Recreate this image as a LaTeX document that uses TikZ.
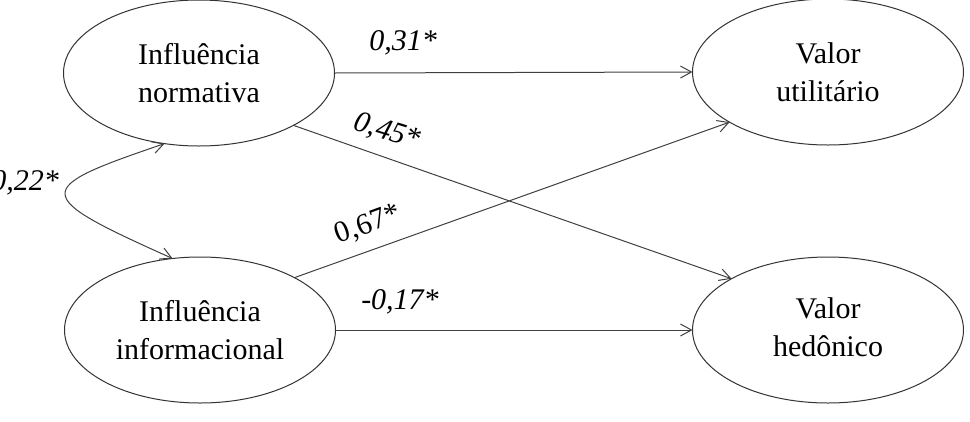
\documentclass[tikz,border=0pt]{standalone}
\usepackage{fontspec}
\setmainfont{Liberation Serif}
\usetikzlibrary{arrows.meta,shapes.geometric}
\begin{document}
\begin{tikzpicture}[x=1pt,y=-1pt,
  latent/.style={ellipse,draw=black!80,line width=1pt,minimum width=271pt,minimum height=146pt,inner sep=0pt,outer sep=0pt,align=center,font=\fontsize{30}{38}\selectfont},
  path/.style={draw=black!75,line width=1pt,-{Straight Barb[length=11pt,width=12pt]}},
  coef/.style={font=\fontsize{30}{36}\selectfont\itshape,inner sep=0pt}]
\useasboundingbox (0,0) rectangle (970,421);
\node[latent] (n1) at (199,73) {Influência\\normativa};
\node[latent] (n2) at (200,330) {Influência\\informacional};
\node[latent] (v1) at (828,72) {Valor\\utilitário};
\node[latent] (v2) at (828,330) {\raisebox{6pt}{\begin{tabular}{@{}c@{}}Valor\\hedônico\end{tabular}}};
\draw[path] (n1.east) -- (v1.west);
\draw[path] (n1.331) -- (v2.152);
\draw[path] (n2.29) -- (v1.207.5);
\draw[path] (n2.east) -- (v2.west);
\draw[draw=black!75,line width=1pt,{Straight Barb[length=11pt,width=12pt]}-{Straight Barb[length=11pt,width=12pt]}]
  (n1.244) .. controls (31,189) and (31,195) .. (n2.111);
\node[coef] (c31) at (403,43) {0,31*};
\node[coef,rotate=-17] (c45) at (387,132) {0,45*};
\node[coef,font=\fontsize{30}{36}\selectfont,rotate=20] (c67) at (368,225) {0,67*};
\node[coef] (c17) at (400,302) {-0,17*};
\node[coef] (c22) at (25,183) {0,22*};
\end{tikzpicture}
\end{document}
